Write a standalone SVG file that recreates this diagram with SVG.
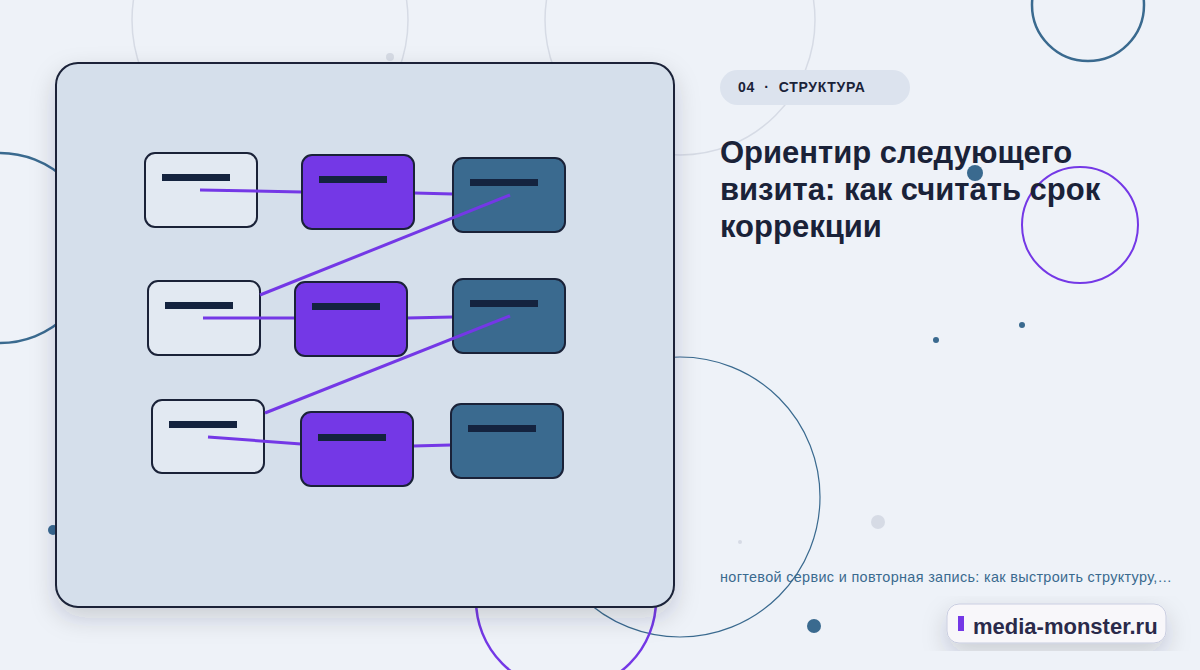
<svg xmlns="http://www.w3.org/2000/svg" width="1200" height="670" viewBox="0 0 1200 670">
<defs>
<style>
.t{font-family:"Liberation Sans",Arial,sans-serif}
.l{fill:#e2e9f2;stroke:#1a2238;stroke-width:2}
.p{fill:#7438e6;stroke:#1a2238;stroke-width:2}
.d{fill:#3a6a8f;stroke:#1a2238;stroke-width:2}
.bar{fill:#14233f}
.c{stroke:#7438e6;stroke-width:3;fill:none}
</style>
<filter id="sh" x="-20%" y="-20%" width="140%" height="140%"><feDropShadow dx="0" dy="10" stdDeviation="12" flood-color="#1a2238" flood-opacity="0.18"/></filter>
</defs>
<rect width="1200" height="670" fill="#eef2f8"/>
<g fill="none">
<circle cx="270" cy="20" r="138" stroke="#d6dbe5" stroke-width="1.5"/>
<circle cx="680" cy="20" r="135" stroke="#d6dbe5" stroke-width="1.5"/>
<circle cx="1088" cy="5" r="56" stroke="#3a6a8f" stroke-width="2.5"/>
<circle cx="0" cy="248" r="95" stroke="#3a6a8f" stroke-width="2.5"/>
<circle cx="1080" cy="225" r="58" stroke="#7438e6" stroke-width="2"/>
<circle cx="680" cy="497" r="140" stroke="#3a6a8f" stroke-width="1.2"/>
<circle cx="566" cy="600" r="90" stroke="#7438e6" stroke-width="2.5"/>
</g>
<g>
<circle cx="975" cy="173" r="8" fill="#3a6a8f"/>
<circle cx="936" cy="340" r="3" fill="#3a6a8f"/>
<circle cx="1022" cy="325" r="3" fill="#3a6a8f"/>
<circle cx="878" cy="522" r="7" fill="#d6dbe5"/>
<circle cx="814" cy="626" r="7" fill="#3a6a8f"/>
<circle cx="390" cy="57" r="4" fill="#d6dbe5"/>
<circle cx="740" cy="542" r="2" fill="#d6dbe5"/>
<circle cx="53" cy="530" r="5" fill="#3a6a8f"/>
</g>
<rect x="56" y="63" width="618" height="544" rx="22" fill="#d5dfeb" stroke="#1a2238" stroke-width="2" filter="url(#sh)"/>
<g id="n1"><rect class="l" x="145" y="153" width="112" height="74" rx="10"/><rect class="bar" x="162" y="174" width="68" height="7"/></g>
<g id="n4"><rect class="l" x="148" y="281" width="112" height="74" rx="10"/><rect class="bar" x="165" y="302" width="68" height="7"/></g>
<g id="n7"><rect class="l" x="152" y="400" width="112" height="73" rx="10"/><rect class="bar" x="169" y="421" width="68" height="7"/></g>
<g id="connectors">
<line class="c" x1="200" y1="190" x2="302" y2="192"/>
<line class="c" x1="414" y1="193" x2="453" y2="194"/>
<line class="c" x1="203" y1="318" x2="295" y2="318"/>
<line class="c" x1="407" y1="318" x2="453" y2="317"/>
<line class="c" x1="208" y1="437" x2="301" y2="444"/>
<line class="c" x1="413" y1="446" x2="451" y2="445"/>
</g>
<g id="n2"><rect class="p" x="302" y="155" width="112" height="74" rx="10"/><rect class="bar" x="319" y="176" width="68" height="7"/></g>
<g id="n3"><rect class="d" x="453" y="158" width="112" height="74" rx="10"/><rect class="bar" x="470" y="179" width="68" height="7"/></g>
<g id="n5"><rect class="p" x="295" y="282" width="112" height="74" rx="10"/><rect class="bar" x="312" y="303" width="68" height="7"/></g>
<g id="n6"><rect class="d" x="453" y="279" width="112" height="74" rx="10"/><rect class="bar" x="470" y="300" width="68" height="7"/></g>
<g id="n8"><rect class="p" x="301" y="412" width="112" height="74" rx="10"/><rect class="bar" x="318" y="434" width="68" height="7"/></g>
<g id="n9"><rect class="d" x="451" y="404" width="112" height="74" rx="10"/><rect class="bar" x="468" y="425" width="68" height="7"/></g>
<g id="connectors2">
<line class="c" x1="510" y1="195" x2="260" y2="295"/>
<line class="c" x1="510" y1="316" x2="265" y2="413"/>
</g>
<rect x="720" y="70" width="190" height="35" rx="17.5" fill="#dce3ee"/>
<text class="t" x="738" y="92" font-size="14" font-weight="bold" fill="#1a2238" letter-spacing="0.7" xml:space="preserve">04  ·  СТРУКТУРА</text>
<text class="t" font-size="31" font-weight="bold" fill="#1a2238"><tspan x="720" y="163">Ориентир следующего</tspan><tspan x="720" y="200">визита: как считать срок</tspan><tspan x="720" y="237">коррекции</tspan></text>
<text class="t" x="720" y="582" font-size="14.4" fill="#3a6a8f" textLength="452">ногтевой сервис и повторная запись: как выстроить структуру,…</text>
<g filter="url(#sh)"><rect x="947" y="604" width="219" height="39" rx="12" fill="#f8f7fa" stroke="#c9cde0"/></g>
<rect x="958" y="616" width="6" height="15" fill="#7438e6"/>
<text class="t" x="973" y="634" font-size="22" font-weight="bold" fill="#2a2a4a">media-monster.ru</text>
</svg>
